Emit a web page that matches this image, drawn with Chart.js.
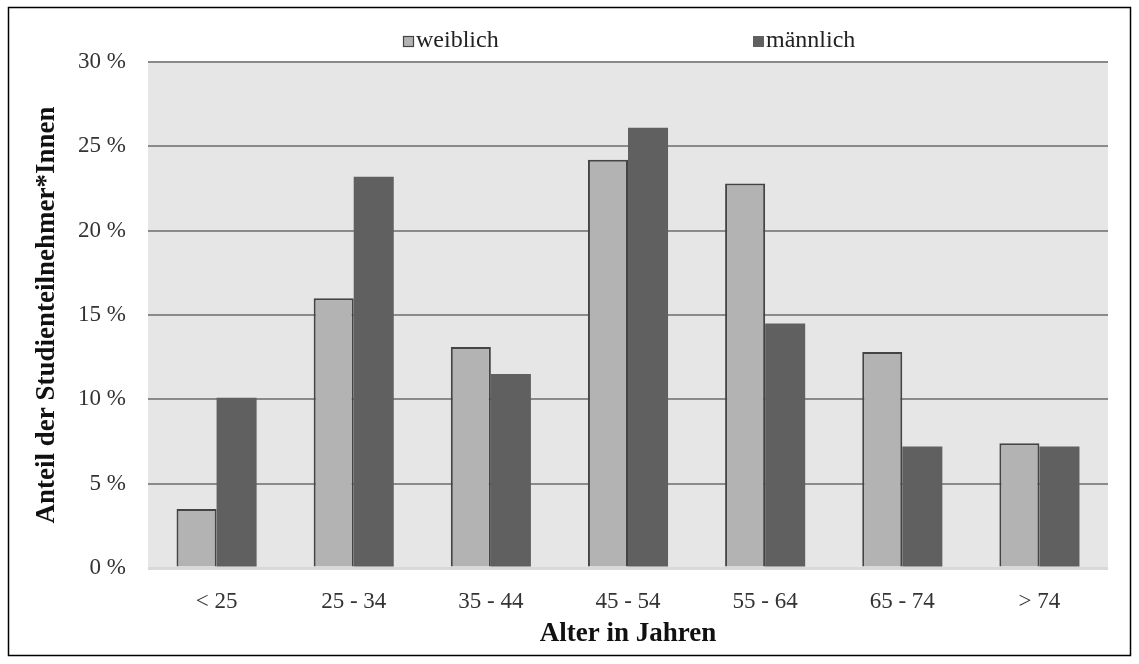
<!DOCTYPE html>
<html><head><meta charset="utf-8">
<script src="https://cdn.jsdelivr.net/npm/chart.js@4.4.0/dist/chart.umd.min.js"></script>
<style>html,body{margin:0;padding:0;background:#fff}#wrap{width:1139px;height:664px}</style>
</head><body><div id="wrap"><canvas id="c" width="1139" height="664"></canvas></div>
<script>
const categories = ['< 25', '25 - 34', '35 - 44', '45 - 54', '55 - 64', '65 - 74', '> 74'];
const weiblich = [3.5, 16.0, 13.1, 24.2, 22.8, 12.8, 7.4];
const maennlich = [10.1, 23.2, 11.5, 26.1, 14.5, 7.2, 7.2];
const seriesNames = ['weiblich', 'männlich'];
const yTicks = [0, 5, 10, 15, 20, 25, 30];

const FONT = "'Liberation Serif', 'Times New Roman', serif";

const bgPlugin = {
  id: 'bg',
  beforeDraw(chart) {
    const {ctx, chartArea: a} = chart;
    ctx.save();
    ctx.fillStyle = '#fff';
    ctx.fillRect(0, 0, chart.width, chart.height);
    ctx.fillStyle = '#e6e6e6';
    ctx.fillRect(a.left, a.top, a.right - a.left, a.bottom - a.top);
    ctx.restore();
  },
  afterDraw(chart) {
    const {ctx, chartArea: a} = chart;
    ctx.save();
    ctx.strokeStyle = '#000';
    ctx.lineWidth = 1.5;
    ctx.strokeRect(8.5, 7.5, 1122, 648);
    // legend
    const offs = [255, 605];
    ctx.font = '24px ' + FONT;
    ctx.textBaseline = 'middle';
    chart.data.datasets.forEach((ds, i) => {
      const x = a.left + offs[i];
      const y = 41;
      ctx.fillStyle = ds.backgroundColor;
      ctx.fillRect(x, y - 5, 11, 11);
      if (ds.borderWidth) {
        ctx.strokeStyle = ds.borderColor;
        ctx.lineWidth = 1.2;
        ctx.strokeRect(x + 0.5, y - 4.5, 10, 10);
      }
      ctx.fillStyle = '#222';
      ctx.fillText(ds.label, x + 13, y);
    });
    ctx.restore();
  }
};

new Chart(document.getElementById('c'), {
  type: 'bar',
  data: {
    labels: categories,
    datasets: [
      { label: seriesNames[0], data: weiblich, backgroundColor: '#b3b3b3', borderColor: '#444444', borderWidth: 2 },
      { label: seriesNames[1], data: maennlich, backgroundColor: '#606060', borderColor: '#606060', borderWidth: 0 }
    ]
  },
  options: {
    responsive: false,
    animation: false,
    layout: { padding: { left: 8, right: 31, top: 62, bottom: 10 } },
    plugins: { legend: { display: false }, tooltip: { enabled: false } },
    datasets: { bar: { categoryPercentage: 0.584, barPercentage: 1.0 } },
    scales: {
      x: {
        grid: { display: false, drawTicks: false },
        border: { display: false },
        ticks: { color: '#333', font: { family: FONT, size: 23 }, padding: 20, maxRotation: 0 },
        title: { display: true, text: 'Alter in Jahren', color: '#111', font: { family: FONT, size: 27, weight: 'bold' }, padding: { top: 0, bottom: 4 } },
        afterFit(s) { s.height = 86; }
      },
      y: {
        min: 0, max: 30,
        afterBuildTicks(s) { s.ticks = yTicks.map(v => ({ value: v })); },
        grid: {
          drawTicks: false,
          color: c => (c.tick && c.tick.value === 0) ? '#d9d9d9' : '#8a8a8a',
          lineWidth: c => (c.tick && c.tick.value === 0) ? 3 : 2
        },
        border: { display: false },
        ticks: { color: '#333', font: { family: FONT, size: 23 }, padding: 22, callback: v => v + ' %' },
        title: { display: true, text: 'Anteil der Studienteilnehmer*Innen', color: '#111', font: { family: FONT, size: 27, weight: 'bold' }, padding: { top: 23, bottom: 0 } },
        afterFit(s) { s.width = 140; }
      }
    }
  },
  plugins: [bgPlugin]
});
</script>
</body></html>
